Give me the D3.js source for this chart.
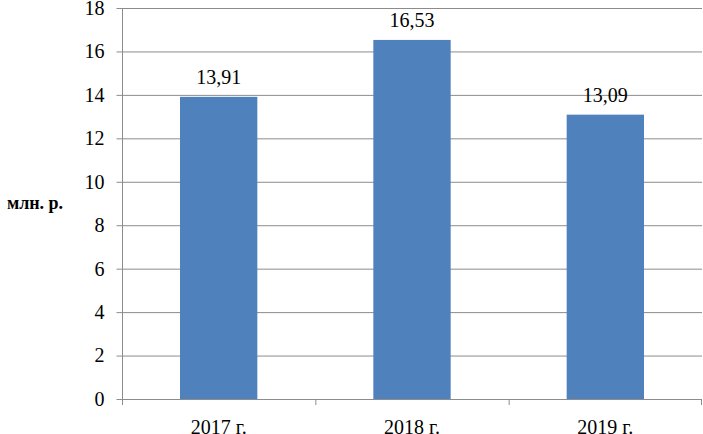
<!DOCTYPE html>
<html>
<head>
<meta charset="utf-8">
<script src="https://cdn.jsdelivr.net/npm/d3@7"></script>
<style>
  body { margin: 0; background: #fff; font-family: 'Liberation Serif', serif; }
  svg { display: block; }
</style>
</head>
<body>
<svg id="chart" width="703" height="434" font-family="Liberation Serif, Tinos, serif"></svg>
<script>
const years = ['2017 г.', '2018 г.', '2019 г.'];
const amounts = [13.91, 16.53, 13.09];
const yTicks = [0, 2, 4, 6, 8, 10, 12, 14, 16, 18];
const yLabel = 'млн. р.';

const svg = d3.select('#chart');
const plotLeft = 122, plotRight = 702, plotTop = 8, plotBottom = 399;

const x = d3.scaleBand().domain(years).range([plotLeft, plotRight]);
const y = d3.scaleLinear().domain([0, 18]).range([plotBottom, plotTop]);

// gridlines
svg.append('g')
  .selectAll('line')
  .data(yTicks.filter(d => d > 0))
  .join('line')
  .attr('x1', plotLeft).attr('x2', plotRight)
  .attr('y1', d => y(d) + 0.5).attr('y2', d => y(d) + 0.5)
  .attr('stroke', '#8c8c8c').attr('stroke-width', 1);

// bars
const barW = x.bandwidth() * 0.4;
svg.append('g')
  .selectAll('rect')
  .data(amounts)
  .join('rect')
  .attr('x', (d, i) => x(years[i]) + (x.bandwidth() - barW) / 2)
  .attr('width', barW)
  .attr('y', d => y(d))
  .attr('height', d => plotBottom - y(d))
  .attr('fill', '#4f81bd');

// value labels
svg.append('g')
  .selectAll('text')
  .data(amounts)
  .join('text')
  .attr('x', (d, i) => x(years[i]) + x.bandwidth() / 2)
  .attr('y', d => y(d) - 13)
  .attr('text-anchor', 'middle')
  .attr('font-size', 20)
  .text(d => d.toFixed(2).replace('.', ','));

// y axis
const yAxis = svg.append('g')
  .attr('transform', `translate(${plotLeft + 0.5},0)`)
  .call(d3.axisLeft(y).tickValues(yTicks).tickSize(6).tickPadding(12))
  .attr('font-family', null)
  .attr('font-size', 20);
yAxis.select('.domain').attr('stroke', '#8c8c8c').attr('d', `M0,${plotTop}V${plotBottom}`);
yAxis.selectAll('.tick line').attr('stroke', '#8c8c8c');
yAxis.selectAll('.tick text').attr('fill', '#000');

// x axis
const xAxis = svg.append('g')
  .attr('transform', `translate(0,${plotBottom + 0.5})`)
  .call(d3.axisBottom(x).tickSize(0).tickPadding(20))
  .attr('font-family', null)
  .attr('font-size', 20);
xAxis.select('.domain').attr('stroke', '#8c8c8c').attr('d', `M${plotLeft},0H${plotRight}`);
xAxis.selectAll('.tick text').attr('fill', '#000');
svg.append('g')
  .selectAll('line')
  .data(years.map(d => x(d)).concat([plotRight]))
  .join('line')
  .attr('x1', d => Math.min(d, plotRight - 1) + 0.5).attr('x2', d => Math.min(d, plotRight - 1) + 0.5)
  .attr('y1', plotBottom).attr('y2', plotBottom + 6)
  .attr('stroke', '#8c8c8c');

// y label
svg.append('text')
  .attr('x', 35).attr('y', 209)
  .attr('text-anchor', 'middle')
  .attr('font-size', 18)
  .attr('font-weight', 'bold')
  .text(yLabel);
</script>
</body>
</html>
